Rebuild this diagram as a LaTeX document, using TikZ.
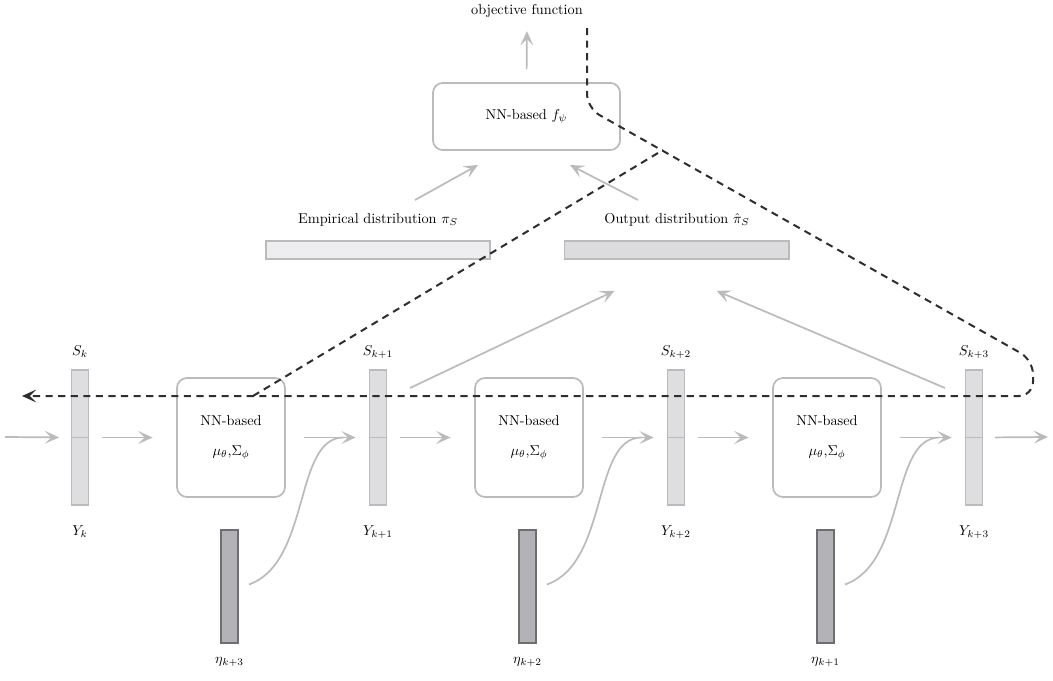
\documentclass[tikz,border=0pt]{standalone}
\usepackage{amsmath,amssymb}
\usepackage{tikz}
\usetikzlibrary{arrows.meta,positioning,calc}
\definecolor{wire}{HTML}{BBBBBD}
\definecolor{statefill}{HTML}{DEDEE0}
\definecolor{empfill}{HTML}{EEEEF0}
\definecolor{outfill}{HTML}{DCDCDE}
\definecolor{noisefill}{HTML}{B3B3B7}
\definecolor{noiseline}{HTML}{6E6E72}
\definecolor{grad}{HTML}{2E2E2E}

\tikzset{
  statebar/.style={draw=wire,line width=1.2pt,fill=statefill,minimum width=12pt,
                   minimum height=94.5pt,inner sep=0pt},
  netbox/.style={draw=wire,line width=1.2pt,rounded corners=7pt,minimum width=75.6pt,
                 minimum height=83.3pt,align=center,inner sep=0pt},
  noisebar/.style={draw=noiseline,line width=1.2pt,fill=noisefill,minimum width=12pt,
                   minimum height=79pt,inner sep=0pt},
  distbar/.style={draw=wire,line width=1.2pt,minimum width=157pt,minimum height=12.6pt,inner sep=0pt},
  flow/.style={wire,line width=1.2pt,-{Stealth[length=10pt,width=9pt,inset=4.5pt]}},
  backprop/.style={grad,line width=1.4pt,dash pattern=on 5pt off 3.8pt},
}

\begin{document}
\begin{tikzpicture}[x=0.7pt,y=-0.7pt]
\useasboundingbox (0,0) rectangle (1053,680);
% state vectors along the chain
\foreach \i/\x/\t in {0/80/k,1/378/k+1,2/676/k+2,3/974/k+3}{
  \node[statebar] (s\i) at (\x,437.5) {};
  \draw[wire,line width=1.2pt] (s\i.west) -- (s\i.east);
  \node (ls\i) at (\x,352) {$S_{\t}$};
  \node (ly\i) at (\x,532) {$Y_{\t}$};
}
% transition networks and noise inputs
\foreach \i/\x in {1/231,2/529,3/827}{
  \pgfmathtruncatemacro{\j}{4-\i}
  \node[netbox] (nn\i) at (\x,437.5) {NN-based\\[9pt]$\mu_\theta$,$\Sigma_\phi$};
  \node[noisebar] (eta\i) at (\x-1.5,586.5) {};
  \node (leta\i) at (\x-1.5,662) {$\eta_{k+\j}$};
}
\coordinate (cin) at (5,437);
\coordinate (cout) at (1048,437);
\draw[flow,shorten >=8pt] (cin) -- (s0.west);
\draw[flow,shorten <=8pt] (s3.east) -- (cout);
\foreach \a/\b in {0/1,1/2,2/3}{
  \draw[flow,shorten <=8.5pt,shorten >=16.5pt] (s\a.east) -- (nn\b.west);
  \draw[flow,shorten <=12.5pt,shorten >=9pt] (nn\b.east) -- (s\b.west);
  \draw[wire,line width=1.2pt] ($(eta\b.east)+(10,-2)$) .. controls +(62,-22) and +(-50,0)
      .. ($(s\b.west)+(-25,0)$);
}
% distributions and discriminator
\node[distbar,fill=empfill] (emp) at (378,250) {};
\node[distbar,fill=outfill] (outd) at (676.5,250) {};
\node (lemp) at (378,220) {Empirical distribution $\pi_S$};
\node (lout) at (677,220) {Output distribution $\hat{\pi}_S$};
\node[draw=wire,line width=1.2pt,rounded corners=7pt,minimum width=131pt,minimum height=47pt]
  (fpsi) at (526.5,116.5) {NN-based $f_\psi$};
\node (obj) at (527,11) {objective function};
\draw[flow,shorten <=9pt,shorten >=6pt] (fpsi.north) -- (obj.south);
\draw[flow] (415,200) -- (478,165);
\draw[flow] (638,200) -- (570,165);
\coordinate (o1) at (410,388);
\coordinate (o3) at (945,388);
\draw[flow] (o1) -- ($(outd.south)+(-62,31)$);
\draw[flow] (o3) -- ($(outd.south)+(40,31)$);
% gradient path, dashed
\coordinate (gtop) at (587,28);
\coordinate (gleft) at (22,396);
\coordinate (gv) at (663,150);
\coordinate (gnn) at (253,396);
\draw[backprop,rounded corners=10pt,-{Stealth[length=10pt,width=9pt,inset=4.5pt]}]
  (gtop) -- (587,108) -- (1033,360) -- (1033,396) -- (gleft);
\draw[backprop] (gnn) -- (gv);
\end{tikzpicture}
\end{document}
